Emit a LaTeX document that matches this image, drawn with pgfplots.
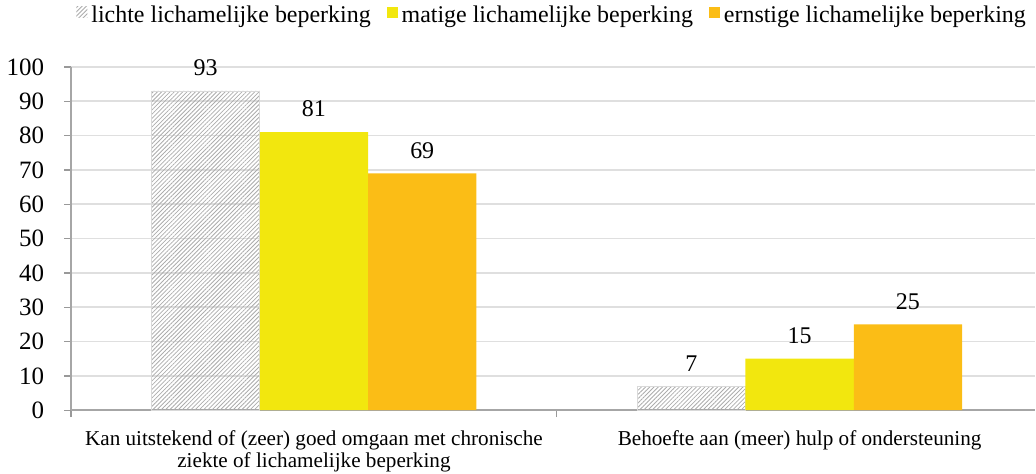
\documentclass[border=0pt]{standalone}
\usepackage{fontspec}
\setmainfont{Liberation Serif}
\usepackage{pgfplots}
\pgfplotsset{compat=1.18}
\usetikzlibrary{patterns.meta}
\definecolor{cyel}{HTML}{F2E70E}
\definecolor{corg}{HTML}{FBBD16}
\newcommand{\tf}{\fontsize{12}{14}\selectfont}
\newcommand{\yf}{\fontsize{12.5}{14}\selectfont}
\newcommand{\cf}{\fontsize{10.6}{11}\selectfont}
\begin{document}
\begin{tikzpicture}
\begin{axis}[
  scale only axis, width=483pt, height=172pt,
  ybar=0pt, bar width=54.25pt,
  xmin=-0.5, xmax=1.485, ymin=0, ymax=100,
  ytick={0,10,...,100},
  /pgf/number format/assume math mode=true,
  yticklabel style={font=\yf, xshift=-6.5pt},
  xtick={-0.5,0.5}, xticklabels={},
  extra x ticks={0,1},
  extra x tick labels={{Kan uitstekend of (zeer) goed omgaan met chronische\\ziekte of lichamelijke beperking},{Behoefte aan (meer) hulp of ondersteuning}},
  extra x tick style={major tick length=0pt, xticklabel style={align=center, font=\cf, inner sep=1pt, yshift=-8.8pt}},
  tick align=outside, major tick length=3.5pt,
  tick style={gray!80, line width=0.6pt},
  axis x line*=bottom, axis y line*=left,
  axis line style={gray!70, line width=0.8pt},
  ymajorgrids, grid style={gray!25, line width=0.8pt},
  nodes near coords,
  every node near coord/.append style={font=\tf, yshift=4pt, black},
  legend style={at={(0.5,1)}, anchor=south, yshift=17.5pt, draw=none, font=\tf, inner sep=1pt,
    /tikz/every even column/.append style={column sep=6pt}},
  legend columns=-1,
  legend image code/.code={\draw[#1, draw=none] (0pt,-1pt) rectangle (5.5pt,4.5pt);},
]
\addplot[draw=gray!30, pattern={Lines[angle=45,distance=1.5pt,line width=0.4pt]}, pattern color=gray!65] coordinates {(0,93) (1,7)};
\addplot[draw=none, fill=cyel] coordinates {(0,81) (1,15)};
\addplot[draw=none, fill=corg] coordinates {(0,69) (1,25)};
\legend{lichte lichamelijke beperking, matige lichamelijke beperking, ernstige lichamelijke beperking}
\end{axis}
\end{tikzpicture}
\end{document}
